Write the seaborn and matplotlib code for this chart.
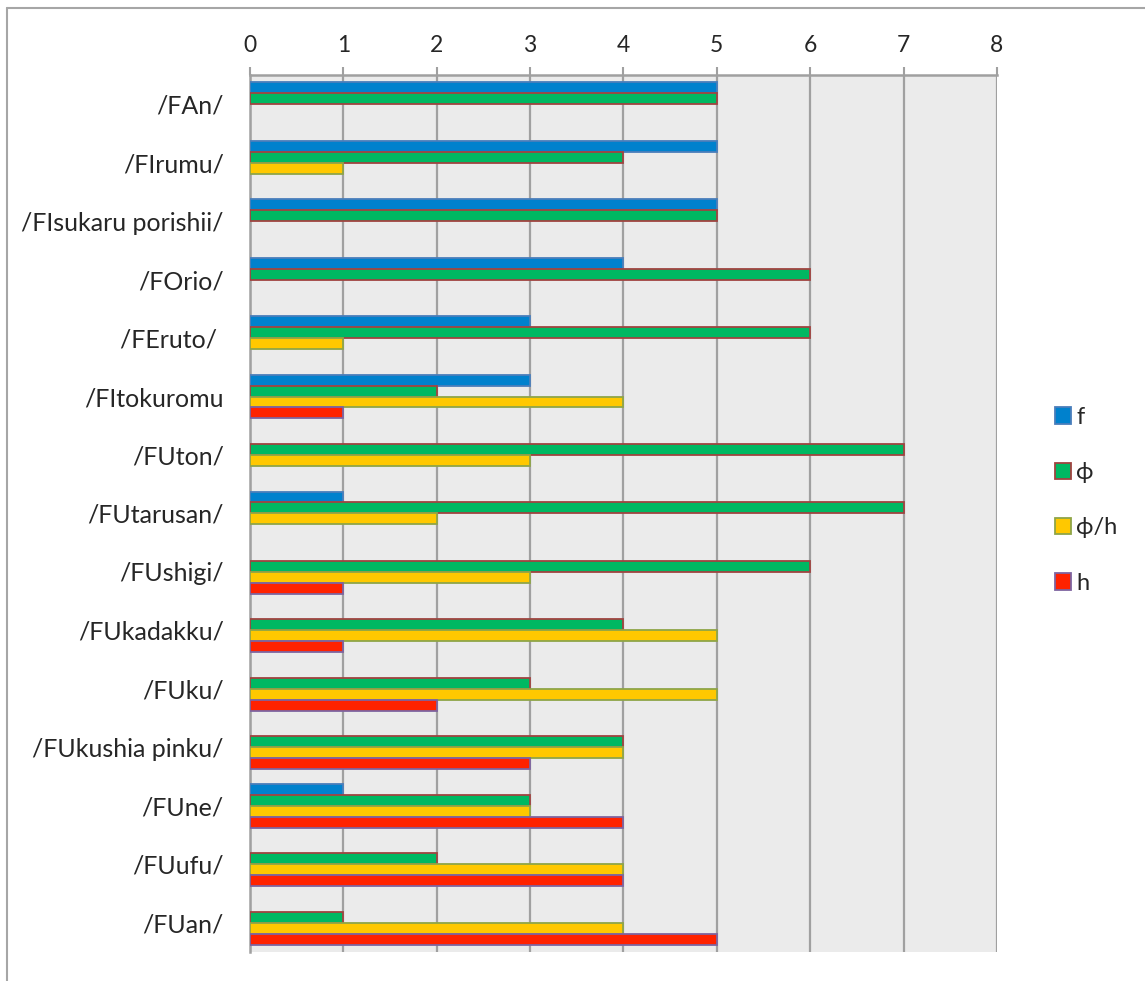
import matplotlib
matplotlib.use("Agg")
import matplotlib.pyplot as plt
import seaborn as sns
import pandas as pd
import numpy as np
from matplotlib.lines import Line2D
from matplotlib.ticker import FixedLocator

# data
words = ["/FAn/", "/FIrumu/", "/FIsukaru porishii/", "/FOrio/", "/FEruto/ ",
         "/FItokuromu", "/FUton/", "/FUtarusan/", "/FUshigi/", "/FUkadakku/",
         "/FUku/", "/FUkushia pinku/", "/FUne/", "/FUufu/", "/FUan/"]
series = ["f", "ϕ", "ϕ/h", "h"]
f_vals = [5, 5, 5, 4, 3, 3, 0, 1, 0, 0, 0, 0, 1, 0, 0]
phi_vals = [5, 4, 5, 6, 6, 2, 7, 7, 6, 4, 3, 4, 3, 2, 1]
phih_vals = [0, 1, 0, 0, 1, 4, 3, 2, 3, 5, 5, 4, 3, 4, 4]
h_vals = [0, 0, 0, 0, 0, 1, 0, 0, 1, 1, 2, 3, 4, 4, 5]
x_ticks = [0, 1, 2, 3, 4, 5, 6, 7, 8]

fills = ["#0081CD", "#00B862", "#FFC800", "#FF2200"]
edges = ["#4A7EBB", "#A04340", "#8FA548", "#7E64A0"]

df = pd.DataFrame({
    "word": words * 4,
    "series": np.repeat(series, len(words)),
    "count": f_vals + phi_vals + phih_vals + h_vals,
})

sns.set_style("white")
plt.rcParams["font.family"] = ["Lato", "DejaVu Sans"]

fig = plt.figure(figsize=(11.45, 9.81), dpi=100)
ax = fig.add_axes([0.2183, 0.0296, 0.6524, 0.894])
ax.set_facecolor("#EBEBEB")

sns.barplot(data=df, x="count", y="word", hue="series", order=words,
            hue_order=series, palette=fills, saturation=1, orient="h",
            width=0.75, errorbar=None, ax=ax, legend=True, zorder=3)

for cont, ec in zip(ax.containers, edges):
    for bar in cont:
        bar.set_edgecolor(ec)
        bar.set_linewidth(1.3)
        if bar.get_width() == 0:
            bar.set_visible(False)

ax.set_xlim(0, 8)
ax.set_ylim(len(words) - 0.5, -0.5)
ax.set_xticks(x_ticks)
ax.xaxis.tick_top()
ax.tick_params(axis="x", length=6, width=1.5, color="#A0A0A0",
               labelsize=16.5, pad=8)
ax.grid(axis="x", color="#A0A0A0", linewidth=1.6, zorder=1)
ax.set_axisbelow(True)

# category boundaries carry the ticks, labels sit at the centers
ax.yaxis.set_major_locator(FixedLocator(np.arange(-0.5, len(words), 1.0)))
ax.yaxis.set_minor_locator(FixedLocator(np.arange(len(words))))
ax.set_yticklabels([], minor=False)
ax.set_yticklabels(words, minor=True)
ax.tick_params(axis="y", which="major", length=8, width=1.5, color="#A0A0A0")
ax.tick_params(axis="y", which="minor", length=0, labelsize=18, pad=19)

ax.set_xlabel("")
ax.set_ylabel("")
for side in ["bottom", "right"]:
    ax.spines[side].set_visible(False)
for side in ["top", "left"]:
    ax.spines[side].set_color("#A0A0A0")
    ax.spines[side].set_linewidth(1.8)

handles, labels = ax.get_legend_handles_labels()
for hnd, ec in zip(handles, edges):
    hnd.set_edgecolor(ec)
    hnd.set_linewidth(1.3)
ax.legend(handles, labels, loc="center left", bbox_to_anchor=(1.065, 0.515),
          frameon=False, fontsize=17, handlelength=0.7, handleheight=0.7,
          handletextpad=0.2, labelspacing=1.45, borderaxespad=0)

# outer chart border (top and left edges visible)
fig.add_artist(Line2D([0.0058, 0.0058], [0.0, 0.992], color="#A6A6A6", lw=1.5,
                      transform=fig.transFigure))
fig.add_artist(Line2D([0.0058, 1.0], [0.992, 0.992], color="#A6A6A6", lw=1.5,
                      transform=fig.transFigure))

fig.savefig("out.png", dpi=100)
